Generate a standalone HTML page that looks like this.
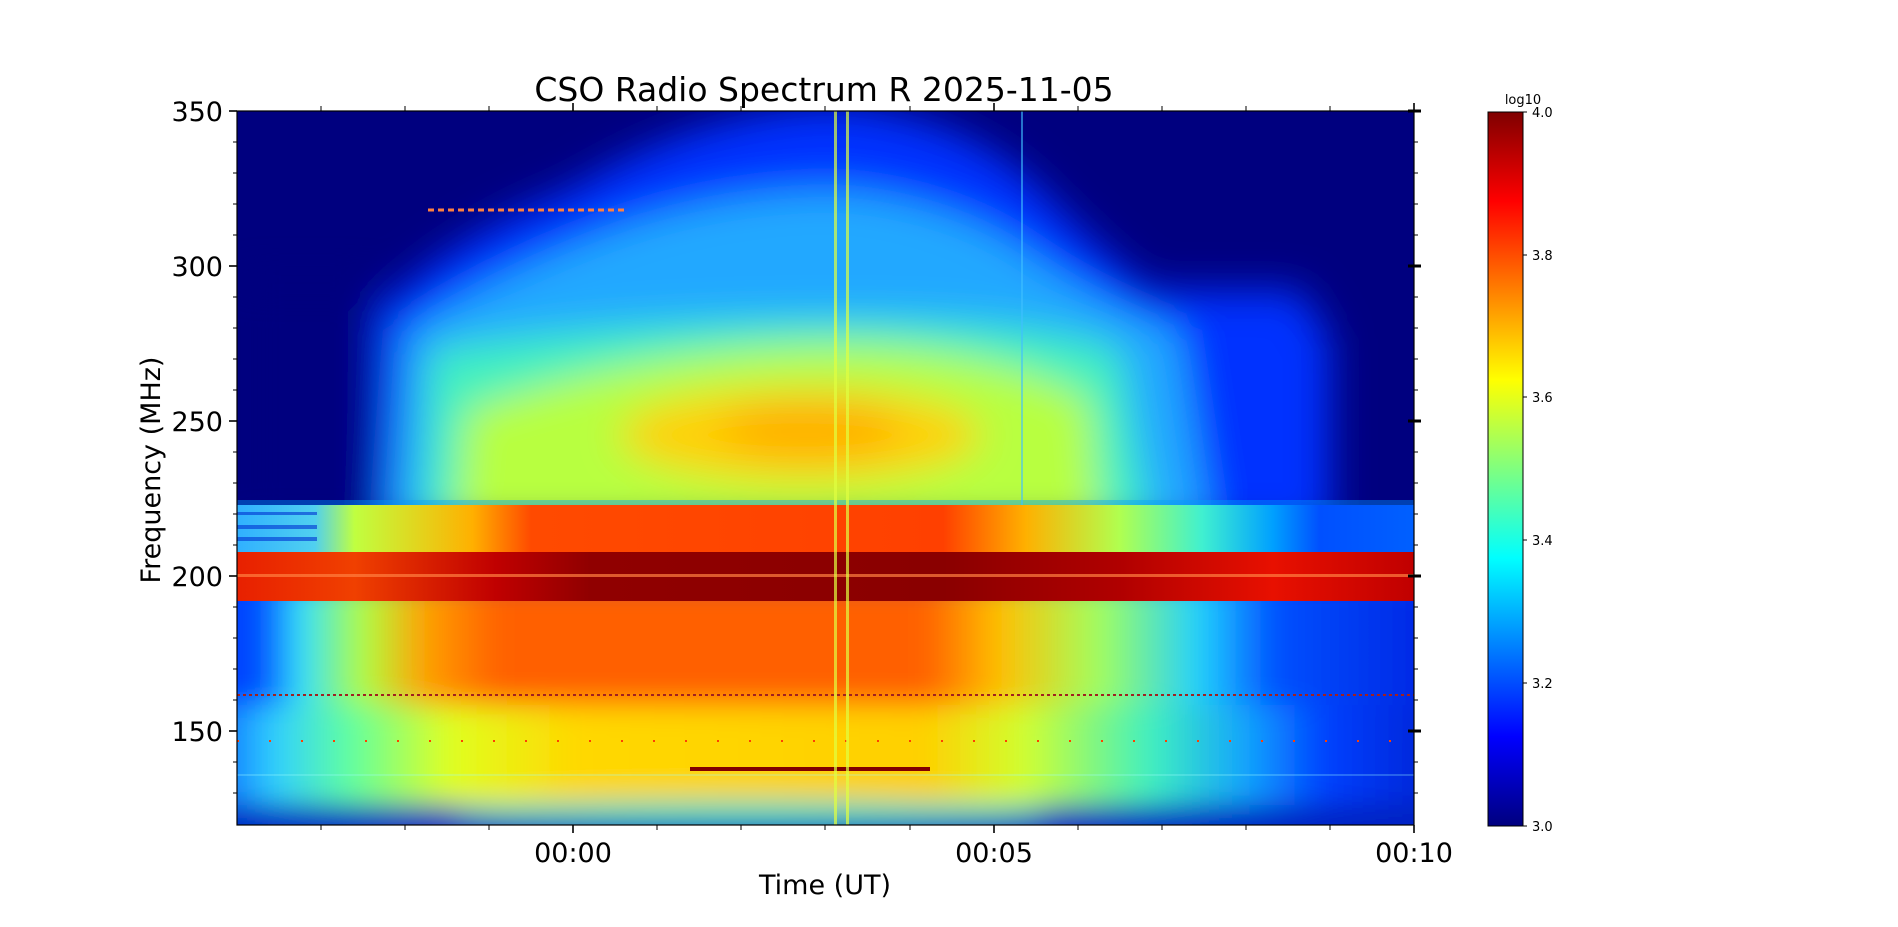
<!DOCTYPE html>
<html><head><meta charset="utf-8"><style>
html,body{margin:0;padding:0;background:#fff;}
svg{display:block;font-family:"DejaVu Sans","Liberation Sans",sans-serif;}
</style></head><body>
<svg width="1898" height="927" viewBox="0 0 1898 927" xmlns="http://www.w3.org/2000/svg">
<defs>
<filter id="b1" x="-20%" y="-20%" width="140%" height="140%"><feGaussianBlur stdDeviation="20"/></filter>
<filter id="b2" x="-20%" y="-20%" width="140%" height="140%"><feGaussianBlur stdDeviation="14"/></filter>
<clipPath id="cu"><rect x="237" y="111" width="1177" height="394"/></clipPath>
<clipPath id="cb"><rect x="237" y="505" width="1177" height="96"/></clipPath>
<clipPath id="cl"><rect x="237" y="601" width="1177" height="224"/></clipPath>
<linearGradient id="jet" x1="0" y1="1" x2="0" y2="0">
<stop offset="0" stop-color="#00007f"/><stop offset="0.125" stop-color="#0000ff"/>
<stop offset="0.375" stop-color="#00ffff"/><stop offset="0.625" stop-color="#ffff00"/>
<stop offset="0.875" stop-color="#ff0000"/><stop offset="1" stop-color="#7f0000"/>
</linearGradient>
<linearGradient id="band1" x1="0" y1="0" x2="1" y2="0">
<stop offset="0" stop-color="#30b0ff"/><stop offset="0.066" stop-color="#50d0f0"/>
<stop offset="0.1" stop-color="#c0ff40"/><stop offset="0.2" stop-color="#ffb000"/>
<stop offset="0.25" stop-color="#ff4a00"/><stop offset="0.6" stop-color="#ff4000"/>
<stop offset="0.67" stop-color="#ffb000"/><stop offset="0.75" stop-color="#b0ff50"/>
<stop offset="0.82" stop-color="#40f0d0"/><stop offset="0.88" stop-color="#00a0ff"/>
<stop offset="0.92" stop-color="#0050ff"/><stop offset="1" stop-color="#0060ff"/>
</linearGradient>
<linearGradient id="band2" x1="0" y1="0" x2="1" y2="0">
<stop offset="0" stop-color="#e82000"/><stop offset="0.1" stop-color="#f04000"/>
<stop offset="0.22" stop-color="#c00000"/><stop offset="0.3" stop-color="#900000"/>
<stop offset="0.6" stop-color="#8a0000"/><stop offset="0.75" stop-color="#b00000"/>
<stop offset="0.88" stop-color="#e81000"/><stop offset="1" stop-color="#c00000"/>
</linearGradient>
<linearGradient id="low1" x1="0" y1="0" x2="1" y2="0">
<stop offset="0" stop-color="#0030ff"/><stop offset="0.05" stop-color="#0050ff"/>
<stop offset="0.08" stop-color="#30e0ff"/><stop offset="0.13" stop-color="#b0ff40"/>
<stop offset="0.18" stop-color="#ffa000"/><stop offset="0.24" stop-color="#ff6000"/>
<stop offset="0.58" stop-color="#ff6000"/><stop offset="0.64" stop-color="#ffc000"/>
<stop offset="0.72" stop-color="#a0ff60"/><stop offset="0.8" stop-color="#20d0ff"/>
<stop offset="0.86" stop-color="#0050ff"/><stop offset="1" stop-color="#0020e0"/>
</linearGradient>
<linearGradient id="low2" x1="0" y1="0" x2="1" y2="0">
<stop offset="0" stop-color="#0050ff"/><stop offset="0.06" stop-color="#30d0ff"/>
<stop offset="0.12" stop-color="#60ffa0"/><stop offset="0.2" stop-color="#e0ff20"/>
<stop offset="0.3" stop-color="#ffd800"/><stop offset="0.58" stop-color="#ffd000"/>
<stop offset="0.66" stop-color="#d0ff30"/><stop offset="0.76" stop-color="#40f0c0"/>
<stop offset="0.84" stop-color="#10a0ff"/><stop offset="0.9" stop-color="#0040ff"/>
<stop offset="1" stop-color="#0020d0"/>
</linearGradient>
</defs>

<g clip-path="url(#cu)">
<rect x="237" y="111" width="1177" height="394" fill="#00007f"/>
<g filter="url(#b1)">
<path d="M330,530 L360,330 Q440,240 570,190 Q700,110 835,105 Q970,115 1050,200 Q1110,260 1150,290 L1300,290 L1330,340 L1330,530 Z" fill="#0030ff"/>
<path d="M390,530 L405,330 Q500,270 610,230 Q720,190 840,190 Q960,200 1040,260 Q1100,300 1180,330 L1210,530 Z" fill="#20a8ff"/>
<path d="M420,530 L430,350 Q600,320 840,320 Q1050,320 1120,350 L1150,530 Z" fill="#40f0c0"/>
<path d="M455,530 L465,410 Q650,345 850,345 Q1000,350 1090,400 L1100,530 Z" fill="#b8ff40"/>
<ellipse cx="800" cy="435" rx="180" ry="45" fill="#ffd000"/>
<ellipse cx="810" cy="430" rx="90" ry="28" fill="#ffb000"/>
<rect x="237" y="280" width="140" height="250" fill="#00007f"/>
</g>
<line x1="428" y1="210" x2="628" y2="210" stroke="#ff8040" stroke-width="3" stroke-dasharray="6,4"/>
<rect x="237" y="500" width="1177" height="5" fill="#00a0ff" opacity="0.4"/>
</g>

<g clip-path="url(#cb)">
<rect x="237" y="505" width="1177" height="47" fill="url(#band1)"/>
<rect x="237" y="512" width="80" height="3" fill="#0030d0" opacity="0.6"/>
<rect x="237" y="525" width="80" height="4" fill="#0030d0" opacity="0.6"/>
<rect x="237" y="537" width="80" height="4" fill="#0030d0" opacity="0.6"/>
<rect x="237" y="552" width="1177" height="49" fill="url(#band2)"/>
<rect x="237" y="574" width="1177" height="3" fill="#ff8040" opacity="0.7"/>
</g>

<g clip-path="url(#cl)">
<rect x="237" y="601" width="1177" height="224" fill="#0030ff"/>
<g filter="url(#b2)">
<rect x="200" y="580" width="1250" height="125" fill="url(#low1)"/>
<rect x="200" y="705" width="1250" height="100" fill="url(#low2)"/>
<rect x="200" y="805" width="1250" height="40" fill="#0020c0"/>
<ellipse cx="750" cy="812" rx="300" ry="12" fill="#40e0c0"/>
</g>
<line x1="237" y1="695" x2="1414" y2="695" stroke="#a02020" stroke-width="2" stroke-dasharray="3,3"/>
<line x1="237" y1="741" x2="1414" y2="741" stroke="#ff4000" stroke-width="2" stroke-dasharray="2,30"/>
<line x1="690" y1="769" x2="930" y2="769" stroke="#800000" stroke-width="4"/>
<line x1="237" y1="775" x2="1414" y2="775" stroke="#a0ffff" stroke-width="1" opacity="0.5"/>
</g>

<rect x="834" y="111" width="3" height="714" fill="#e0ff40" opacity="0.7"/>
<rect x="846" y="111" width="3" height="714" fill="#e0ff40" opacity="0.7"/>
<rect x="1021" y="111" width="2" height="394" fill="#40c0ff" opacity="0.6"/>

<rect x="237" y="111" width="1177" height="714" fill="none" stroke="#000" stroke-width="1.2"/>
<g stroke="#000" stroke-width="1.6">
<line x1="573" y1="825" x2="573" y2="833"/><line x1="994" y1="825" x2="994" y2="833"/><line x1="1414" y1="825" x2="1414" y2="833"/>
<line x1="573" y1="111" x2="573" y2="103"/><line x1="994" y1="111" x2="994" y2="103"/><line x1="1414" y1="111" x2="1414" y2="103"/>
<line x1="237" y1="111" x2="229" y2="111"/><line x1="237" y1="266" x2="229" y2="266"/><line x1="237" y1="421" x2="229" y2="421"/><line x1="237" y1="576" x2="229" y2="576"/><line x1="237" y1="731" x2="229" y2="731"/>
</g>
<g stroke="#000" stroke-width="3">
<line x1="1408" y1="111" x2="1421" y2="111"/><line x1="1408" y1="266" x2="1421" y2="266"/><line x1="1408" y1="421" x2="1421" y2="421"/><line x1="1408" y1="576" x2="1421" y2="576"/><line x1="1408" y1="731" x2="1421" y2="731"/>
</g>
<g stroke="#000" stroke-width="1">
<line x1="321" y1="825" x2="321" y2="830"/><line x1="405" y1="825" x2="405" y2="830"/><line x1="489" y1="825" x2="489" y2="830"/><line x1="657" y1="825" x2="657" y2="830"/><line x1="741" y1="825" x2="741" y2="830"/><line x1="825" y1="825" x2="825" y2="830"/><line x1="910" y1="825" x2="910" y2="830"/><line x1="1078" y1="825" x2="1078" y2="830"/><line x1="1162" y1="825" x2="1162" y2="830"/><line x1="1246" y1="825" x2="1246" y2="830"/><line x1="1330" y1="825" x2="1330" y2="830"/>
<line x1="321" y1="111" x2="321" y2="106"/><line x1="405" y1="111" x2="405" y2="106"/><line x1="489" y1="111" x2="489" y2="106"/><line x1="657" y1="111" x2="657" y2="106"/><line x1="741" y1="111" x2="741" y2="106"/><line x1="825" y1="111" x2="825" y2="106"/><line x1="910" y1="111" x2="910" y2="106"/><line x1="1078" y1="111" x2="1078" y2="106"/><line x1="1162" y1="111" x2="1162" y2="106"/><line x1="1246" y1="111" x2="1246" y2="106"/><line x1="1330" y1="111" x2="1330" y2="106"/>
<line x1="237" y1="142" x2="233" y2="142"/><line x1="237" y1="173" x2="233" y2="173"/><line x1="237" y1="204" x2="233" y2="204"/><line x1="237" y1="235" x2="233" y2="235"/>
<line x1="237" y1="297" x2="233" y2="297"/><line x1="237" y1="328" x2="233" y2="328"/><line x1="237" y1="359" x2="233" y2="359"/><line x1="237" y1="390" x2="233" y2="390"/>
<line x1="237" y1="452" x2="233" y2="452"/><line x1="237" y1="483" x2="233" y2="483"/><line x1="237" y1="514" x2="233" y2="514"/><line x1="237" y1="545" x2="233" y2="545"/>
<line x1="237" y1="607" x2="233" y2="607"/><line x1="237" y1="638" x2="233" y2="638"/><line x1="237" y1="669" x2="233" y2="669"/><line x1="237" y1="700" x2="233" y2="700"/>
<line x1="237" y1="762" x2="233" y2="762"/><line x1="237" y1="793" x2="233" y2="793"/>
<line x1="1414" y1="142" x2="1418" y2="142"/><line x1="1414" y1="173" x2="1418" y2="173"/><line x1="1414" y1="204" x2="1418" y2="204"/><line x1="1414" y1="235" x2="1418" y2="235"/>
<line x1="1414" y1="297" x2="1418" y2="297"/><line x1="1414" y1="328" x2="1418" y2="328"/><line x1="1414" y1="359" x2="1418" y2="359"/><line x1="1414" y1="390" x2="1418" y2="390"/>
<line x1="1414" y1="452" x2="1418" y2="452"/><line x1="1414" y1="483" x2="1418" y2="483"/><line x1="1414" y1="514" x2="1418" y2="514"/><line x1="1414" y1="545" x2="1418" y2="545"/>
<line x1="1414" y1="607" x2="1418" y2="607"/><line x1="1414" y1="638" x2="1418" y2="638"/><line x1="1414" y1="669" x2="1418" y2="669"/><line x1="1414" y1="700" x2="1418" y2="700"/>
<line x1="1414" y1="762" x2="1418" y2="762"/><line x1="1414" y1="793" x2="1418" y2="793"/>
</g>

<text x="824" y="101" font-size="33" text-anchor="middle">CSO Radio Spectrum R 2025-11-05</text>
<g font-size="27" text-anchor="end">
<text x="223" y="121">350</text><text x="223" y="276">300</text><text x="223" y="431">250</text><text x="223" y="586">200</text><text x="223" y="741">150</text>
</g>
<g font-size="27" text-anchor="middle">
<text x="573" y="862">00:00</text><text x="994" y="862">00:05</text><text x="1414" y="862">00:10</text>
<text x="825" y="894">Time (UT)</text>
</g>
<text transform="translate(160,470) rotate(-90)" font-size="27" text-anchor="middle">Frequency (MHz)</text>

<rect x="1488" y="112" width="35" height="714" fill="url(#jet)" stroke="#000" stroke-width="1"/>
<g stroke="#000" stroke-width="1">
<line x1="1523" y1="112" x2="1527" y2="112"/><line x1="1523" y1="255" x2="1527" y2="255"/><line x1="1523" y1="397" x2="1527" y2="397"/><line x1="1523" y1="540" x2="1527" y2="540"/><line x1="1523" y1="683" x2="1527" y2="683"/><line x1="1523" y1="826" x2="1527" y2="826"/>
</g>
<g font-size="13">
<text x="1532" y="117">4.0</text><text x="1532" y="260">3.8</text><text x="1532" y="402">3.6</text><text x="1532" y="545">3.4</text><text x="1532" y="688">3.2</text><text x="1532" y="831">3.0</text>
<text x="1523" y="104" text-anchor="middle">log10</text>
</g>
</svg>
</body></html>
